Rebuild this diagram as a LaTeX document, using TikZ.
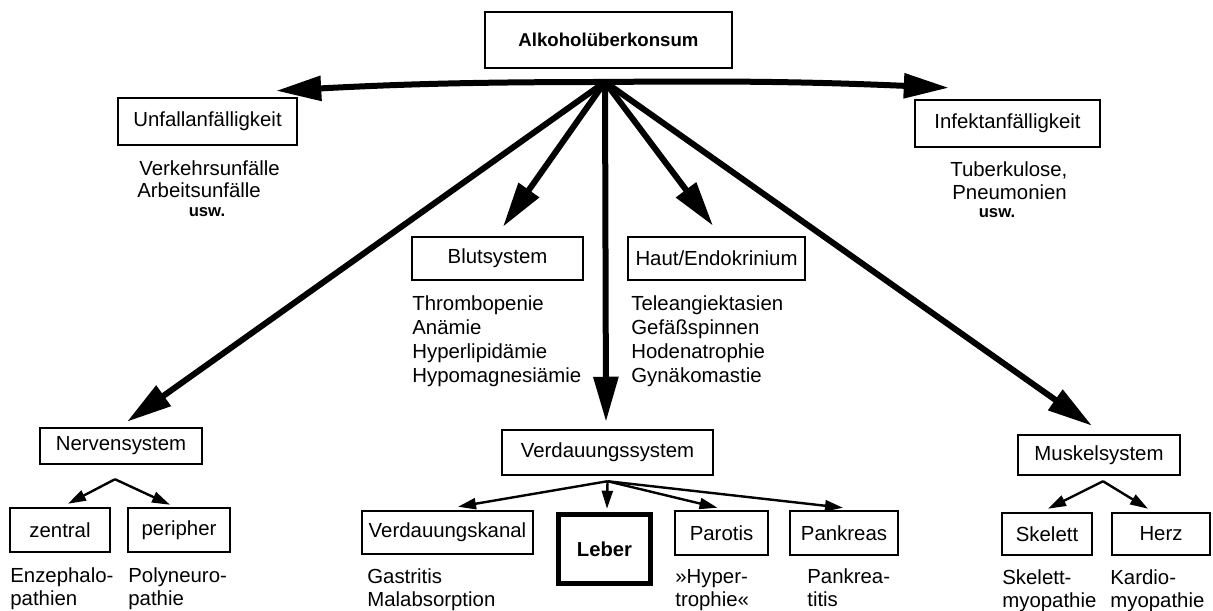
\documentclass[tikz,border=0pt]{standalone}
\usepackage{fontspec}
\setmainfont{Liberation Sans}
\usetikzlibrary{arrows.meta,calc}
\newcommand\mytxt{\fontsize{11.6}{13.6}\selectfont}
\newcommand\mytxtb{\fontsize{11.6}{13.2}\selectfont}
\newcommand\mybold{\fontsize{10.6}{12}\selectfont\bfseries}
\newcommand\mysmall{\fontsize{9.5}{10}\selectfont\bfseries}
\begin{document}
\begin{tikzpicture}[x=0.02cm,y=0.02cm,
 box/.style={draw, line width=0.05cm, inner sep=0pt, font=\mytxt},
 lst/.style={anchor=west, align=left, inner sep=0pt, font=\mytxt},
 lstb/.style={anchor=west, align=left, inner sep=0pt, font=\mytxtb},
 usw/.style={inner sep=0pt, font=\mysmall},
 big/.style={line width=0.12cm, -{Triangle[length=0.9cm,width=0.48cm]}},
 small/.style={line width=0.048cm, -{Triangle[length=0.36cm,width=0.22cm]}},
]
\useasboundingbox (0,0) rectangle (1213,611);
% top
\node[box, minimum width=4.94cm, minimum height=1.12cm, font=\mybold] (top) at (608.5,571) {Alkoholüberkonsum};
\coordinate (hub) at (605,529);
% level 1
\node[box, minimum width=3.58cm, minimum height=0.94cm] (unf) at (207.5,489.5) {Unfallanfälligkeit};
\node[box, minimum width=3.70cm, minimum height=0.94cm] (inf) at (1007.5,487.5) {Infektanfälligkeit};
\node[box, minimum width=3.42cm, minimum height=0.86cm] (blut) at (497.5,352.5) {Blutsystem};
\node[box, minimum width=3.54cm, minimum height=0.86cm] (haut) at (716.5,352.5) {Haut/Endokrinium};
\node[box, minimum width=3.24cm, minimum height=0.72cm] (nerv) at (121,165) {Nervensystem};
\node[box, minimum width=4.22cm, minimum height=0.90cm] (vs) at (607.5,158.5) {Verdauungssystem};
\node[box, minimum width=3.24cm, minimum height=0.80cm] (musk) at (1099,156) {Muskelsystem};
% level 2
\node[box, minimum width=2.00cm, minimum height=0.88cm] (zen) at (60,81) {zentral};
\node[box, minimum width=2.04cm, minimum height=0.88cm] (per) at (179,81) {peripher};
\node[box, minimum width=3.42cm, minimum height=0.86cm] (kanal) at (447.5,78.5) {Verdauungskanal};
\node[box, line width=0.11cm, minimum width=1.84cm, minimum height=1.38cm, font=\fontsize{11.5}{13}\selectfont\bfseries] (leber) at (604.5,62) {Leber};
\node[box, minimum width=1.86cm, minimum height=0.88cm] (par) at (721.5,78) {Parotis};
\node[box, minimum width=2.16cm, minimum height=0.88cm] (pank) at (844,78) {Pankreas};
\node[box, minimum width=1.80cm, minimum height=0.84cm] (skel) at (1047,77) {Skelett};
\node[box, minimum width=1.96cm, minimum height=0.84cm] (herz) at (1161,77) {Herz};
% texts
\node[lst] (t1) at (139,443) {Verkehrsunfälle};
\node[lst] (t2) at (137,421) {Arbeitsunfälle};
\node[usw] (t3) at (207,399) {usw.};
\node[lst] (t4) at (950,441) {Tuberkulose,};
\node[lst] (t5) at (952,419) {Pneumonien};
\node[usw] (t6) at (997,398) {usw.};
\node[lst] (t7) at (412,270) {Thrombopenie\\Anämie\\Hyperlipidämie\\Hypomagnesiämie};
\node[lst] (t8) at (631,270) {Teleangiektasien\\Gefäßspinnen\\Hodenatrophie\\Gynäkomastie};
\node[lstb] (t9) at (10,22) {Enzephalo-\strut\\pathien\strut};
\node[lstb] (t10) at (128,22) {Polyneuro-\strut\\pathie\strut};
\node[lstb] (t11) at (367,21) {Gastritis\strut\\Malabsorption\strut};
\node[lstb] (t12) at (675,21) {»Hyper-\strut\\trophie«\strut};
\node[lstb] (t13) at (807,21) {Pankrea-\strut\\titis\strut};
\node[lstb] (t14) at (1002,20) {Skelett-\strut\\myopathie\strut};
\node[lstb] (t15) at (1110,20) {Kardio-\strut\\myopathie\strut};
% main arrows
\draw[big] (hub) to[bend right=1.5] ($(unf.north east)+(-22,6)$);
\draw[big] (hub) to[bend left=1.5] ($(inf.north west)+(35,11)$);
\draw[big] (hub) -- ($(nerv.north)+(6,5)$);
\draw[big] (hub) -- ($(blut.north)+(5.5,9)$);
\draw[big] (hub) -- ($(vs.north)+(-1.5,7)$);
\draw[big] (hub) -- ($(haut.north)+(-3.5,10)$);
\draw[big] (hub) -- ($(musk.north)+(-7,8)$);
% sub arrows
\coordinate (nh) at ($(nerv.south)+(-6,-14)$);
\coordinate (vh) at ($(vs.south)+(0,-5)$);
\coordinate (mh) at ($(musk.south)+(4,-5)$);
\draw[small] (nh) -- ($(zen.north)+(8,3)$);
\draw[small] (nh) -- ($(per.north)+(-9,2)$);
\draw[small] (vh) -- ($(kanal.north)+(10.5,3)$);
\draw[small] (vh) -- ($(leber.north)+(2.5,3)$);
\draw[small] (vh) -- ($(par.north)+(-4,2)$);
\draw[small] (vh) -- ($(pank.north)+(-1,2)$);
\draw[small] (mh) -- ($(skel.north)+(1,3)$);
\draw[small] (mh) -- ($(herz.north)+(-13,3)$);
\end{tikzpicture}
\end{document}
